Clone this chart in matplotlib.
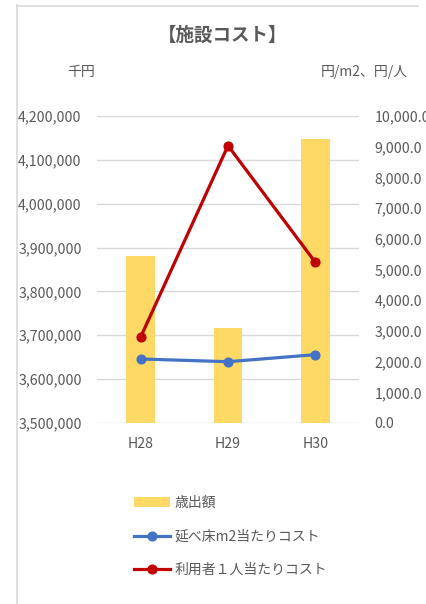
import matplotlib
matplotlib.use("Agg")
import matplotlib.pyplot as plt
from matplotlib.lines import Line2D
from matplotlib.patches import Patch
from matplotlib.ticker import FuncFormatter, MultipleLocator

plt.rcParams['font.family'] = ['Noto Sans CJK JP', 'DejaVu Sans']

categories = ["H28", "H29", "H30"]
expenditure = [3881000, 3716500, 4148000]          # 歳出額 (千円)
cost_per_m2 = [2085, 1997, 2226]                    # 延べ床m2当たりコスト
cost_per_user = [2801, 9033, 5234]                  # 利用者１人当たりコスト

title = "【施設コスト】"
left_unit = "千円"
right_unit = "円/m2、円/人"
legend_labels = ["歳出額", "延べ床m2当たりコスト", "利用者１人当たりコスト"]

GRAY = "#595959"
GRID = "#d9d9d9"
BAR = "#FFD966"
BLUE = "#4472C4"
RED = "#C00000"

W, H = 426, 604
fig = plt.figure(figsize=(W / 100, H / 100), dpi=100)
fig.patch.set_facecolor("white")

ax = fig.add_axes([97 / W, 1 - 423 / H, (359 - 97) / W, (423 - 116) / H])
x = list(range(len(categories)))
ax.bar(x, expenditure, width=0.33, color=BAR, zorder=2)
ax.set_xlim(-0.5, len(categories) - 0.5)
ax.set_ylim(3500000, 4200000)
ax.yaxis.set_major_locator(MultipleLocator(100000))
ax.yaxis.set_major_formatter(FuncFormatter(lambda v, p: f"{v:,.0f}"))
ax.set_xticks(x)
ax.set_xticklabels(categories)
ax.grid(axis="y", color=GRID, linewidth=1, zorder=0)
ax.set_axisbelow(True)
for s in ax.spines.values():
    s.set_visible(False)
ax.tick_params(axis="both", length=0, colors=GRAY, labelsize=10.2)
ax.tick_params(axis="y", pad=11)
ax.tick_params(axis="x", pad=10)

ax2 = ax.twinx()
ax2.plot(x, cost_per_m2, color=BLUE, linewidth=2.3, marker="o", markersize=6.3, zorder=3)
ax2.plot(x, cost_per_user, color=RED, linewidth=2.3, marker="o", markersize=6.3, zorder=3)
ax2.set_ylim(0, 10000)
ax2.yaxis.set_major_locator(MultipleLocator(1000))
ax2.yaxis.set_major_formatter(FuncFormatter(lambda v, p: f"{v:,.1f}"))
for s in ax2.spines.values():
    s.set_visible(False)
ax2.tick_params(axis="y", length=0, colors=GRAY, labelsize=10.2, pad=11)

fig.text(223 / W, 1 - 35 / H, title, ha="center", va="center", fontsize=13.3,
         fontweight="bold", color=GRAY)
fig.text(81 / W, 1 - 72 / H, left_unit, ha="center", va="center", fontsize=10, color=GRAY)
fig.text(364 / W, 1 - 72 / H, right_unit, ha="center", va="center", fontsize=10, color=GRAY)

# chart area frame
fig.add_artist(Line2D([16.5 / W, 16.5 / W], [1 - 5 / H, 0], color=GRID, linewidth=1.2))
fig.add_artist(Line2D([16.5 / W, 418 / W], [1 - 5.5 / H, 1 - 5.5 / H], color=GRID, linewidth=1.2))

handles = [
    Patch(facecolor=BAR, edgecolor="none"),
    Line2D([], [], color=BLUE, linewidth=2.3, marker="o", markersize=6.3),
    Line2D([], [], color=RED, linewidth=2.3, marker="o", markersize=6.3),
]
leg = fig.legend(handles, legend_labels, loc="upper left",
                 bbox_to_anchor=(134 / W, 1 - 496 / H), frameon=False,
                 fontsize=10, handlelength=2.6, handletextpad=0.3,
                 labelspacing=1.4, borderpad=0, borderaxespad=0)
for t in leg.get_texts():
    t.set_color(GRAY)

fig.savefig("out.png", dpi=100)
